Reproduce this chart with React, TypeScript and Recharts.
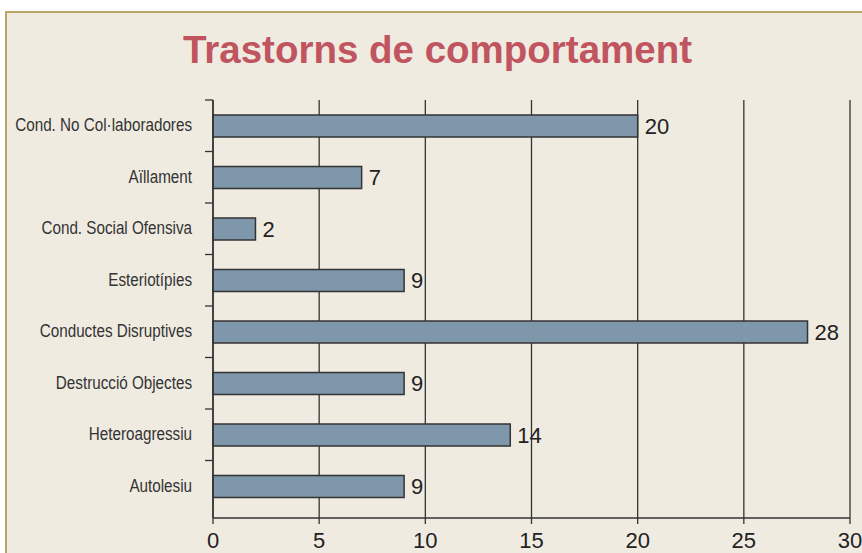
import React from 'react';
import { BarChart, Bar, XAxis, YAxis, CartesianGrid, LabelList } from 'recharts';

const categories = [
  'Cond. No Col·laboradores',
  'Aïllament',
  'Cond. Social Ofensiva',
  'Esteriotípies',
  'Conductes Disruptives',
  'Destrucció Objectes',
  'Heteroagressiu',
  'Autolesiu',
];
const values = [20, 7, 2, 9, 28, 9, 14, 9];
const xTicks = [0, 5, 10, 15, 20, 25, 30];
const title = 'Trastorns de comportament';

const data = categories.map((name, i) => ({ name, value: values[i] }));

// layout constants
const CHART_W = 862;
const CHART_H = 553;
const MARGIN_TOP = 100;
const X_AXIS_H = 35;
const PAD_BOTTOM = 6;
const HALF_BAND = (CHART_H - MARGIN_TOP - X_AXIS_H - PAD_BOTTOM) / categories.length / 2;

function CategoryTick(props: any) {
  const { x, y, payload } = props;
  const axisX = x + 21; // text end is 21px left of the axis line
  return (
    <g>
      <line x1={axisX - 8} x2={axisX} y1={y - HALF_BAND} y2={y - HALF_BAND} stroke="#333333" strokeWidth={1.3} />
      <text
        transform={`translate(${x},${y + 5.3}) scale(0.87,1)`}
        textAnchor="end"
        fontSize={17.5}
        fill="#333333"
        fontFamily='"Liberation Sans", Arial, sans-serif'
      >
        {payload.value}
      </text>
    </g>
  );
}

export default function App() {
  return (
    <div style={{ position: 'absolute', left: 0, top: 0, width: CHART_W, height: CHART_H, background: '#ffffff', overflow: 'hidden' }}>
      <div
        style={{
          position: 'absolute',
          left: 5,
          top: 11,
          width: 900,
          height: 600,
          border: '2px solid #b9a566',
          background: '#efebe1',
          boxSizing: 'border-box',
        }}
      />
      <div
        style={{
          position: 'absolute',
          left: 0,
          top: 31,
          width: 875,
          textAlign: 'center',
          fontFamily: '"Liberation Sans", Arial, sans-serif',
          fontWeight: 'bold',
          fontSize: 38.5,
          lineHeight: '38px',
          color: '#c0545f',
          whiteSpace: 'nowrap',
        }}
      >
        {title}
      </div>
      <div style={{ position: 'absolute', left: 0, top: 0 }}>
        <BarChart
          width={CHART_W}
          height={CHART_H}
          data={data}
          layout="vertical"
          margin={{ top: MARGIN_TOP, right: 12, bottom: 0, left: 0 }}
          barCategoryGap={0}
        >
          <CartesianGrid vertical horizontal={false} stroke="#333333" strokeWidth={1.3} />
          <YAxis
            type="category"
            dataKey="name"
            width={213}
            tickLine={false}
            tickSize={8}
            tickMargin={13}
            padding={{ top: 0, bottom: PAD_BOTTOM }}
            axisLine={{ stroke: '#333333', strokeWidth: 1.5 }}
            tick={<CategoryTick />}
            interval={0}
          />
          <XAxis
            type="number"
            domain={[0, 30]}
            ticks={xTicks}
            height={X_AXIS_H}
            tickSize={6}
            tickMargin={8}
            axisLine={{ stroke: '#333333', strokeWidth: 1.5 }}
            tickLine={{ stroke: '#333333', strokeWidth: 1.3 }}
            tick={{ fontSize: 22, fill: '#222222', fontFamily: '"Liberation Sans", Arial, sans-serif' }}
            interval={0}
          />
          <Bar
            dataKey="value"
            fill="#7f97ab"
            stroke="#333333"
            strokeWidth={1.5}
            barSize={22}
            isAnimationActive={false}
          >
            <LabelList
              dataKey="value"
              position="right"
              offset={7}
              fill="#222222"
              fontSize={22}
              fontFamily='"Liberation Sans", Arial, sans-serif'
            />
          </Bar>
        </BarChart>
      </div>
    </div>
  );
}
